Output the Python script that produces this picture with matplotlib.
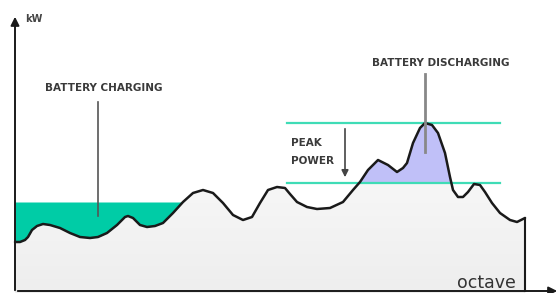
import numpy as np
import matplotlib
matplotlib.use("Agg")
import matplotlib.pyplot as plt
from matplotlib.patches import Polygon

# load profile (time units, kW units)
t = [15, 20, 25, 28, 32, 37, 43, 50, 60, 70,
     80, 90, 98, 107, 117, 125, 128, 133, 140, 147,
     155, 163, 173, 183, 193, 203, 213, 223, 233, 243,
     252, 260, 268, 277, 285, 290, 297, 307, 317, 330,
     343, 353, 360, 368, 378, 388, 397, 403, 407, 413,
     420, 425, 432, 438, 445, 450, 453, 458, 463, 468,
     474, 480, 485, 492, 500, 510, 517, 525]
load = [51, 51, 53, 56, 63, 67, 69, 68, 65, 60,
        56, 55, 56, 60, 68, 76, 77, 75, 68, 66,
        67, 70, 80, 91, 100, 103, 100, 90, 78, 73,
        76, 90, 103, 106, 105, 99, 91, 86, 84, 85,
        91, 103, 111, 123, 133, 128, 121, 125, 130, 150,
        165, 170, 168, 160, 140, 116, 103, 96, 96, 101,
        109, 108, 101, 90, 80, 73, 71, 75]

charge_level = 91     # battery charges below this (night hours)
charge_end = 190
peak_limit = 110      # battery discharges above this
peak_max = 170

t = np.array(t, dtype=float)
load = np.array(load, dtype=float)

fig = plt.figure(figsize=(5.6, 2.93), dpi=100)
ax = fig.add_axes([0, 0, 1, 1])
ax.set_xlim(0, 560)
ax.set_ylim(0, 293)
ax.axis("off")

# gray gradient under the curve
poly = Polygon(np.column_stack([np.r_[t, t[-1], t[0]], np.r_[load, 0, 0]]),
               closed=True, facecolor="none", edgecolor="none")
ax.add_patch(poly)
grad = np.linspace(0, 1, 100).reshape(-1, 1)
im = ax.imshow(grad, extent=[t[0], t[-1], 0, 180], origin="lower",
               cmap=matplotlib.colors.LinearSegmentedColormap.from_list(
                   "g", ["#eeeeee", "#fcfcfc"]),
               aspect="auto", zorder=1)
im.set_clip_path(poly)

# charging area
ax.fill_between(t, load, charge_level,
                where=(load <= charge_level) & (t <= charge_end),
                interpolate=True, color="#00cca6", lw=0, zorder=2)
# discharging area
ax.fill_between(t, load, peak_limit, where=load >= peak_limit,
                interpolate=True, color="#c0c0f8", lw=0, zorder=2)

ax.plot(t, load, color="#1a1a1a", lw=1.8, zorder=4,
        solid_joinstyle="round", solid_capstyle="round")
ax.plot([t[-1], t[-1]], [load[-1], 2], color="#1a1a1a", lw=1.5, zorder=4)

# peak lines
for lev in (peak_limit, peak_max):
    ax.plot([287, 500], [lev, lev], color="#3fdcb6", lw=1.6, zorder=3)

# axes
ax.annotate("", xy=(15, 279), xytext=(15, 0),
            arrowprops=dict(arrowstyle="-|>,head_width=0.25,head_length=0.5",
                            color="#1a1a1a", lw=1.4), zorder=5)
ax.annotate("", xy=(560, 2), xytext=(15, 2),
            arrowprops=dict(arrowstyle="-|>,head_width=0.25,head_length=0.5",
                            color="#1a1a1a", lw=1.4), zorder=5)
ax.text(25, 274, "kW", fontsize=7, fontweight="bold", color="#444444",
        va="center", ha="left", family="DejaVu Sans")

lbl = dict(fontsize=7.5, fontweight="bold", color="#3a3a3a",
           family="DejaVu Sans", zorder=6)
ax.text(45, 205, "BATTERY CHARGING", va="center", ha="left", **lbl)
ax.plot([98, 98], [191, 77], color="#555555", lw=1.2, zorder=5)

ax.text(372, 230, "BATTERY DISCHARGING", va="center", ha="left", **lbl)
ax.plot([425, 425], [219, 141], color="#888888", lw=2, zorder=5)

ax.text(291, 141, "PEAK\nPOWER", va="center", ha="left",
        linespacing=1.9, **lbl)
ax.annotate("", xy=(345, 113), xytext=(345, 167),
            arrowprops=dict(arrowstyle="-|>,head_width=0.2,head_length=0.4",
                            color="#444444", lw=1.2), zorder=5)

ax.text(516, 10, "octave", fontsize=12.5, color="#333333", ha="right",
        va="center", family="DejaVu Sans", zorder=6)

fig.savefig("out.png", dpi=100)
